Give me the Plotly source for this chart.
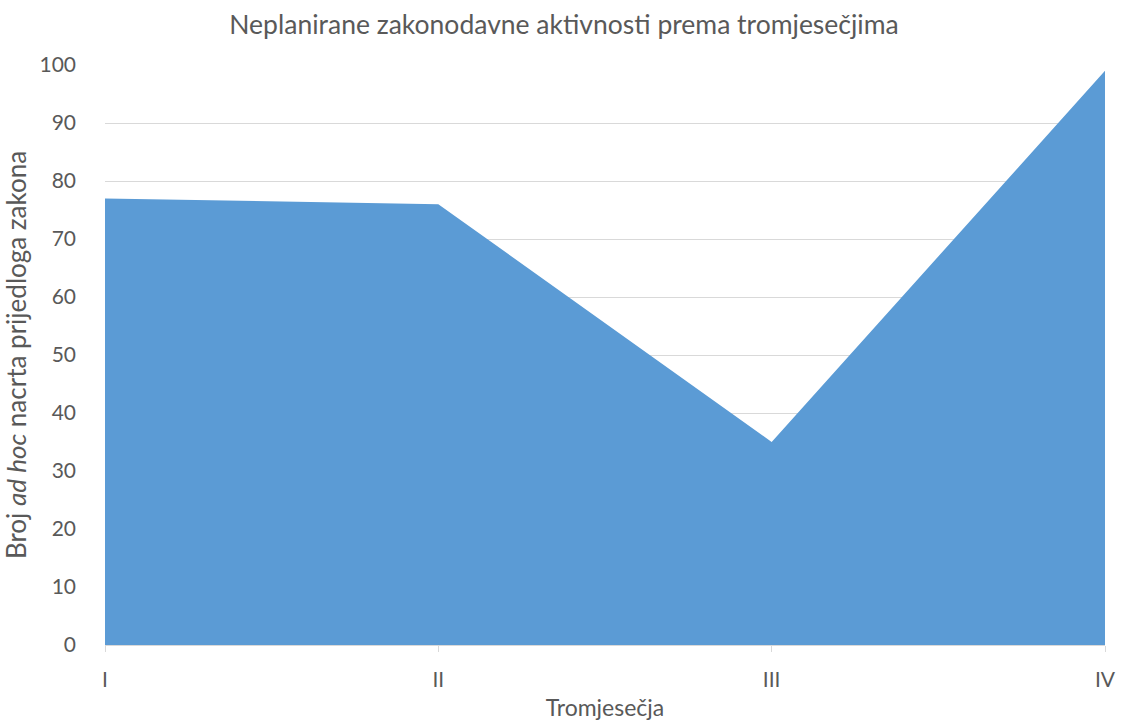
import plotly.graph_objects as go

categories = ["I", "II", "III", "IV"]
values = [77, 76, 35, 99]
y_ticks = [0, 10, 20, 30, 40, 50, 60, 70, 80, 90, 100]

x_pos = list(range(len(categories)))

fig = go.Figure()
fig.add_trace(go.Scatter(
    x=x_pos, y=values, fill="tozeroy", mode="none",
    fillcolor="#5B9BD5", hoverinfo="skip", showlegend=False,
))

font_family = "Lato, Open Sans, sans-serif"
grey = "#595959"

fig.update_layout(
    width=1128, height=728,
    margin=dict(l=105, r=15, t=65, b=80),
    paper_bgcolor="white", plot_bgcolor="white",
    title=dict(text="Neplanirane zakonodavne aktivnosti prema tromjesečjima",
               x=0.5, xanchor="center",
               y=1 - 25 / 728, yanchor="middle",
               font=dict(family=font_family, size=26.5, color=grey)),
    font=dict(family=font_family, color=grey),
    xaxis=dict(
        range=[0, 3], tickmode="array", tickvals=x_pos, ticktext=categories,
        showgrid=False, zeroline=False, showline=True, linecolor="#D9D9D9",
        ticks="outside", ticklen=6, tickcolor="#D9D9D9",
        tickfont=dict(size=21, color=grey),
        ticklabelstandoff=10,
        title=dict(text="Tromjesečja", font=dict(size=23, color=grey), standoff=9),
    ),
    yaxis=dict(
        range=[0, 100], tickmode="array", tickvals=y_ticks,
        showgrid=True, gridcolor="#D9D9D9", zeroline=False, showline=False,
        ticks="", tickfont=dict(size=21, color=grey),
        ticklabelstandoff=28,
        title=dict(text="Broj <i>ad hoc</i> nacrta prijedloga zakona",
                   font=dict(size=26, color=grey), standoff=6),
    ),
)

fig.write_html(
    "out.html",
    config={"displayModeBar": False},
    post_script=(
        "document.documentElement.style.margin='0';"
        "document.documentElement.style.overflow='hidden';"
        "document.body.style.margin='0';"
        "document.body.style.overflow='hidden';"
    ),
)
